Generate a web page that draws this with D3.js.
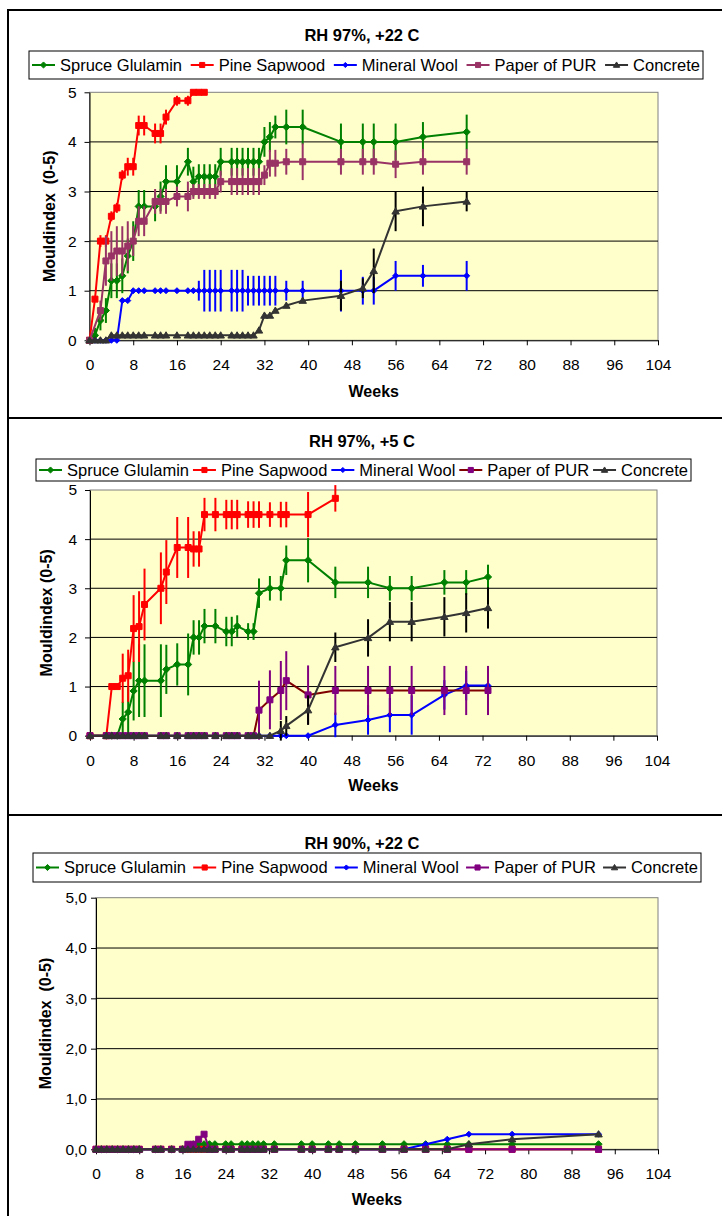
<!DOCTYPE html>
<html><head><meta charset="utf-8">
<script src="https://cdn.jsdelivr.net/npm/d3@7"></script>
<style>
body{margin:0;background:#fff}
svg{display:block}
text{font-family:"Liberation Sans",Arial,Helvetica,sans-serif;fill:#000}
</style>
</head><body>
<svg id="chart" width="722" height="1216"></svg>
<script>
// ---------- shared ----------
const seriesNames = ["Spruce Glulamin","Pine Sapwood","Mineral Wool","Paper of PUR","Concrete"];
const xTickValues = [0,8,16,24,32,40,48,56,64,72,80,88,96,104];
const yTickValues = [0,1,2,3,4,5];

// ---------- Panel 1 : RH 97%, +22 C ----------
const p1Title = "RH 97%, +22 C";
const p1SpruceWeeks = [0,1,2,3,4,5,6,7,8,9,10,12,13,14,16,18,19,20,21,22,23,24,26,27,28,29,30,31,32,33,34,36,39,46,50,52,56,61,69];
const p1SpruceValues = [0,0.1,0.4,0.6,1.2,1.2,1.3,1.7,2.0,2.7,2.7,2.7,2.9,3.2,3.2,3.6,3.2,3.3,3.3,3.3,3.3,3.6,3.6,3.6,3.6,3.6,3.6,3.6,4.0,4.1,4.3,4.3,4.3,4.0,4.0,4.0,4.0,4.1,4.2];
const p1SpruceErrors = [0,0.15,0.2,0.25,0.35,0.35,0.35,0.35,0.4,0.33,0.33,0.3,0.3,0.33,0.33,0.28,0.3,0.25,0.25,0.25,0.25,0.28,0.28,0.28,0.28,0.28,0.28,0.28,0.3,0.3,0.23,0.35,0.35,0.37,0.37,0.37,0.37,0.3,0.35];
const p1PineWeeks = [0,1,2,3,4,5,6,7,8,9,10,12,13,14,16,18,19,20,21];
const p1PineValues = [0,0.83,2,2,2.5,2.67,3.33,3.5,3.5,4.33,4.33,4.17,4.17,4.5,4.83,4.83,5,5,5];
const p1PineErrors = [0,0,0.12,0.12,0.1,0.1,0.1,0.18,0.18,0.2,0.2,0.2,0.2,0.15,0.1,0.1,0,0,0];
const p1MineralWeeks = [0,1,2,3,4,5,6,7,8,9,10,12,13,14,16,18,19,20,21,22,23,24,26,27,28,29,30,31,32,33,34,36,39,46,50,52,56,61,69];
const p1MineralValues = [0,0,0,0,0,0,0.8,0.8,1,1,1,1,1,1,1,1,1,1,1,1,1,1,1,1,1,1,1,1,1,1,1,1,1,1,1,1,1.3,1.3,1.3];
const p1MineralErrors = [0,0,0,0,0,0,0,0,0,0,0,0,0,0,0,0,0,0.2,0.42,0.42,0.42,0.42,0.42,0.42,0.42,0.3,0.3,0.3,0.3,0.3,0.3,0.2,0.2,0.42,0.28,0.28,0.3,0.22,0.3];
const p1PurWeeks = [0,2,3,4,5,6,7,8,9,10,12,13,14,16,18,19,20,21,22,23,24,26,27,28,29,30,31,32,33,34,36,39,46,50,52,56,61,69];
const p1PurValues = [0,0.6,1.6,1.7,1.8,1.8,1.9,2.0,2.4,2.4,2.8,2.8,2.8,2.9,2.9,3.0,3.0,3.0,3.0,3.0,3.2,3.2,3.2,3.2,3.2,3.2,3.2,3.33,3.57,3.57,3.6,3.6,3.6,3.6,3.6,3.55,3.6,3.6];
const p1PurErrors = [0,0.2,0.5,0.5,0.5,0.5,0.5,0.3,0.3,0.3,0.25,0.25,0.25,0.2,0.3,0.15,0.15,0.15,0.15,0.15,0.22,0.27,0.27,0.27,0.27,0.27,0.27,0.2,0.27,0.27,0.26,0.37,0.26,0.26,0.26,0.28,0.26,0.26];
const p1ConcreteWeeks = [0,1,2,3,4,5,6,7,8,9,10,12,13,14,16,18,19,20,21,22,23,24,26,27,28,29,30,31,32,33,34,36,39,46,50,52,56,61,69];
const p1ConcreteValues = [0,0,0,0,0.1,0.1,0.1,0.1,0.1,0.1,0.1,0.1,0.1,0.1,0.1,0.1,0.1,0.1,0.1,0.1,0.1,0.1,0.1,0.1,0.1,0.1,0.1,0.2,0.5,0.5,0.6,0.7,0.8,0.9,1.05,1.4,2.6,2.7,2.8];
const p1ConcreteErrors = [0,0,0,0,0,0,0,0,0,0,0,0,0,0,0,0,0,0,0,0,0,0,0,0,0,0,0,0,0,0,0,0,0,0.3,0.2,0.45,0.4,0.4,0.2];

// ---------- Panel 2 : RH 97%, +5 C ----------
const p2Title = "RH 97%, +5 C";
const p2Weeks = [0,3,4,5,6,7,8,9,10,13,14,16,18,19,20,21,23,25,26,27,29,30,31,33,35,36,40,45,51,55,59,65,69,73];
const p2PineWeeks = [0,3,4,5,6,7,8,9,10,13,14,16,18,19,20,21,23,25,26,27,29,30,31,33,35,36,40,45];
const p2PineValues = [0,0,1,1,1.17,1.22,2.18,2.22,2.67,3.0,3.33,3.83,3.83,3.8,3.8,4.5,4.5,4.5,4.5,4.5,4.5,4.5,4.5,4.5,4.5,4.5,4.5,4.83];
const p2PineErrors = [0,0,0,0,0.5,0.53,0.68,0.72,0.73,0.73,0.65,0.62,0.62,0.36,0.36,0.34,0.34,0.3,0.3,0.3,0.27,0.27,0.27,0.25,0.26,0.26,0.46,0.27];
const p2SpruceValues = [0,0,0,0,0.34,0.48,0.91,1.12,1.12,1.12,1.35,1.45,1.45,2.0,2.0,2.23,2.23,2.12,2.12,2.23,2.12,2.12,2.9,3.0,3.0,3.57,3.57,3.12,3.12,3.0,3.0,3.12,3.12,3.23];
const p2SpruceErrors = [0,0,0,0,0.35,0.5,0.6,0.74,0.74,0.74,0.5,0.43,0.63,0.35,0.35,0.35,0.35,0.3,0.3,0.22,0.17,0.17,0.3,0.25,0.25,0.3,0.45,0.32,0.32,0.25,0.25,0.25,0.25,0.25];
const p2MineralValues = [0,0,0,0,0,0,0,0,0,0,0,0,0,0,0,0,0,0,0,0,0,0,0,0,0,0,0,0.22,0.32,0.42,0.42,0.83,1.02,1.02];
const p2MineralErrors = [0,0,0,0,0,0,0,0,0,0,0,0,0,0,0,0,0,0,0,0,0,0,0,0,0,0,0,0.25,0.3,0.35,0.4,0.3,0.3,0.3];
const p2PurValues = [0,0,0,0,0,0,0,0,0,0,0,0,0,0,0,0,0,0,0,0,0,0,0.52,0.73,0.92,1.12,0.83,0.92,0.92,0.92,0.92,0.92,0.92,0.92];
const p2PurErrors = [0,0,0,0,0,0,0,0,0,0,0,0,0,0,0,0,0,0,0,0,0,0,0.6,0.6,0.6,0.6,0.6,0.5,0.5,0.5,0.5,0.5,0.5,0.5];
const p2ConcreteValues = [0,0,0,0,0,0,0,0,0,0,0,0,0,0,0,0,0,0,0,0,0,0,0,0,0.1,0.2,0.52,1.8,1.99,2.32,2.32,2.42,2.5,2.6];
const p2ConcreteErrors = [0,0,0,0,0,0,0,0,0,0,0,0,0,0,0,0,0,0,0,0,0,0,0,0,0.2,0.2,0.3,0.3,0.38,0.4,0.4,0.4,0.4,0.42];

// ---------- Panel 3 : RH 90%, +22 C ----------
const p3Title = "RH 90%, +22 C";
const p3Weeks = [0,1,2,3,4,5,6,7,8,11,12,14,16,17,18,19,20,21,22,24,25,27,28,29,30,31,33,38,40,43,45,48,53,57,61,65,69,77,93];
const p3SpruceValues = [0,0,0,0,0,0,0,0,0,0,0,0,0,0,0.1,0.1,0.1,0.1,0.1,0.1,0.1,0.1,0.1,0.1,0.1,0.1,0.1,0.1,0.1,0.1,0.1,0.1,0.1,0.1,0.1,0.1,0.1,0.1,0.1];
const p3PineValues = [0,0,0,0,0,0,0,0,0,0,0,0,0,0,0,0,0,0,0,0,0,0,0,0,0,0,0,0,0,0,0,0,0,0,0,0,0,0,0];
const p3MineralValues = [0,0,0,0,0,0,0,0,0,0,0,0,0,0,0,0,0,0,0,0,0,0,0,0,0,0,0,0,0,0,0,0,0,0,0.1,0.2,0.3,0.3,0.3];
const p3PurValues = [0,0,0,0,0,0,0,0,0,0,0,0,0,0.1,0.1,0.2,0.3,0,0,0,0,0,0,0,0,0,0,0,0,0,0,0,0,0,0,0,0,0,0];
const p3ConcreteValues = [0,0,0,0,0,0,0,0,0,0,0,0,0,0,0,0,0,0,0,0,0,0,0,0,0,0,0,0,0,0,0,0,0,0,0,0,0.1,0.2,0.3];

// ---------- drawing ----------
const svg = d3.select("#chart");
const FONT = '"Liberation Sans",Arial,Helvetica,sans-serif';

function zip(weeks, values, errors){
  return weeks.map((w,i)=>({w:w, v:values[i], e: errors ? errors[i] : 0}));
}

function markerPath(shape, size){
  if(shape==="diamond") return `M0,${-size}L${size},0L0,${size}L${-size},0Z`;
  if(shape==="square") return `M${-size},${-size}H${size}V${size}H${-size}Z`;
  if(shape==="triangle") return `M0,${-size*1.05}L${size*1.1},${size*0.8}L${-size*1.1},${size*0.8}Z`;
  return "";
}

function drawPanel(cfg){
  const g = svg.append("g");
  const x = d3.scaleLinear().domain([0,104]).range([cfg.left, cfg.right]);
  const y = d3.scaleLinear().domain([0,5]).range([cfg.bottom, cfg.top]);

  // title
  g.append("text").attr("x", cfg.titleX).attr("y", cfg.titleY)
    .attr("text-anchor","middle").style("font-size","16.5px").style("font-weight","bold")
    .text(cfg.title);

  // legend box
  const lg = g.append("g");
  lg.append("rect").attr("x",cfg.legend.x).attr("y",cfg.legend.y)
    .attr("width",cfg.legend.w).attr("height",cfg.legend.h)
    .attr("fill","#fff").attr("stroke","#000").attr("stroke-width",1);
  // shadow-ish lower/right line like Excel
  const items = cfg.series.map(s=>{
    const it = lg.append("g");
    const t = it.append("text").style("font-size","16.5px").attr("dy","0.35em").text(s.name);
    return {s, it, t, tw: t.node().getComputedTextLength()};
  });
  const lineLen = 23, gapLT = 5, pad = 3;
  const totalItems = d3.sum(items, d=>lineLen+gapLT+d.tw);
  const spacing = (cfg.legend.w - 2*pad - totalItems)/(items.length-1);
  let cx = cfg.legend.x + pad;
  const cy = cfg.legend.y + cfg.legend.h/2;
  items.forEach(d=>{
    d.it.append("line").attr("x1",cx).attr("x2",cx+lineLen).attr("y1",cy).attr("y2",cy)
      .attr("stroke",d.s.lineColor).attr("stroke-width",2);
    d.it.append("path").attr("d",markerPath(d.s.shape,d.s.size*0.85))
      .attr("transform",`translate(${cx+lineLen/2},${cy})`)
      .attr("fill",d.s.markerColor).attr("stroke",d.s.markerColor).attr("stroke-width",1);
    d.t.attr("x",cx+lineLen+gapLT).attr("y",cy);
    cx += lineLen+gapLT+d.tw+spacing;
  });

  // plot area
  g.append("rect").attr("x",cfg.left).attr("y",cfg.top)
    .attr("width",cfg.right-cfg.left).attr("height",cfg.bottom-cfg.top)
    .attr("fill","#FFFFCC").attr("stroke","#808080").attr("stroke-width",1);
  // gridlines
  g.selectAll("line.grid").data(yTickValues.filter(v=>v>0 && v<5)).join("line")
    .attr("class","grid")
    .attr("x1",cfg.left).attr("x2",cfg.right)
    .attr("y1",d=>y(d)).attr("y2",d=>y(d))
    .attr("stroke","#000").attr("stroke-width",1);

  // axes
  const xAxis = d3.axisBottom(x).tickValues(xTickValues).tickSize(5).tickSizeOuter(0).tickPadding(cfg.xPad);
  const xa = g.append("g").attr("transform",`translate(0,${cfg.bottom})`).call(xAxis);
  xa.selectAll("text").style("font-size","15.5px").style("font-family",FONT).attr("fill","#000");
  xa.selectAll("line, path").attr("stroke","#000");
  const yAxis = d3.axisLeft(y).tickValues(yTickValues).tickSize(5).tickSizeOuter(0).tickPadding(cfg.yPad)
    .tickFormat(cfg.yFormat);
  const ya = g.append("g").attr("transform",`translate(${cfg.left},0)`).call(yAxis);
  ya.selectAll("text").style("font-size","15.5px").style("font-family",FONT).attr("fill","#000");
  ya.selectAll("line, path").attr("stroke","#000");

  // axis titles
  g.append("text").attr("x",(cfg.left+cfg.right)/2).attr("y",cfg.weeksY)
    .attr("text-anchor","middle").style("font-size","16px").style("font-weight","bold").text("Weeks");
  g.append("text").attr("transform",`translate(${cfg.yTitleX},${(cfg.top+cfg.bottom)/2}) rotate(-90)`)
    .attr("text-anchor","middle").attr("dy","0.35em").attr("xml:space","preserve")
    .style("white-space","pre").style("font-size","16px").style("font-weight","bold").text(cfg.yTitle);

  // series
  const lineGen = d3.line().x(d=>x(d.w)).y(d=>y(d.v));
  cfg.series.forEach(s=>{
    if(!s.data.length) return;
    const sg = g.append("g");
    sg.append("path").datum(s.data).attr("d",lineGen)
      .attr("fill","none").attr("stroke",s.lineColor).attr("stroke-width",2).attr("stroke-linejoin","round");
    sg.selectAll("line.err").data(s.data.filter(d=>d.e>0)).join("line")
      .attr("class","err")
      .attr("x1",d=>x(d.w)).attr("x2",d=>x(d.w))
      .attr("y1",d=>y(d.v-d.e)).attr("y2",d=>y(d.v+d.e))
      .attr("stroke",s.errColor).attr("stroke-width",2);
    sg.selectAll("path.mk").data(s.data).join("path")
      .attr("class","mk")
      .attr("d",markerPath(s.shape,s.size))
      .attr("transform",d=>`translate(${x(d.w)},${y(d.v)})`)
      .attr("fill",s.markerColor).attr("stroke",s.markerColor).attr("stroke-width",1);
  });
}

// outer frame
svg.append("rect").attr("x",8).attr("y",10).attr("width",740).attr("height",1240)
  .attr("fill","none").attr("stroke","#000").attr("stroke-width",2);
svg.append("line").attr("x1",8).attr("x2",760).attr("y1",418).attr("y2",418).attr("stroke","#000").attr("stroke-width",2);
svg.append("line").attr("x1",8).attr("x2",760).attr("y1",815).attr("y2",815).attr("stroke","#000").attr("stroke-width",2);

const intFmt = d3.format("d");
const commaFmt = d=>d3.format(".1f")(d).replace(".",",");

drawPanel({
  title:p1Title, titleX:362, titleY:41,
  legend:{x:29,y:51,w:674,h:28},
  left:89.5, right:658, top:92.3, bottom:340.3,
  xPad:14, yPad:8, yFormat:intFmt, weeksY:397, yTitleX:49,
  yTitle:"Mouldindex  (0-5)",
  series:[
    {name:seriesNames[0], data:zip(p1SpruceWeeks,p1SpruceValues,p1SpruceErrors), lineColor:"#008000", markerColor:"#008000", errColor:"#008000", shape:"diamond", size:3.6},
    {name:seriesNames[1], data:zip(p1PineWeeks,p1PineValues,p1PineErrors), lineColor:"#FF0000", markerColor:"#FF0000", errColor:"#FF0000", shape:"square", size:3},
    {name:seriesNames[2], data:zip(p1MineralWeeks,p1MineralValues,p1MineralErrors), lineColor:"#0000FF", markerColor:"#0000FF", errColor:"#0000FF", shape:"diamond", size:3},
    {name:seriesNames[3], data:zip(p1PurWeeks,p1PurValues,p1PurErrors), lineColor:"#993366", markerColor:"#993366", errColor:"#993366", shape:"square", size:3},
    {name:seriesNames[4], data:zip(p1ConcreteWeeks,p1ConcreteValues,p1ConcreteErrors), lineColor:"#333333", markerColor:"#333333", errColor:"#000000", shape:"triangle", size:3.4}
  ]
});

drawPanel({
  title:p2Title, titleX:362, titleY:447,
  legend:{x:36,y:459,w:655,h:22},
  left:90, right:657, top:490, bottom:735.7,
  xPad:14, yPad:8, yFormat:intFmt, weeksY:791, yTitleX:46,
  yTitle:"Mouldindex (0-5)",
  series:[
    {name:seriesNames[0], data:zip(p2Weeks,p2SpruceValues,p2SpruceErrors), lineColor:"#008000", markerColor:"#008000", errColor:"#008000", shape:"diamond", size:3.6},
    {name:seriesNames[1], data:zip(p2PineWeeks,p2PineValues,p2PineErrors), lineColor:"#FF0000", markerColor:"#FF0000", errColor:"#FF0000", shape:"square", size:3},
    {name:seriesNames[2], data:zip(p2Weeks,p2MineralValues,p2MineralErrors), lineColor:"#0000FF", markerColor:"#0000FF", errColor:"#0000FF", shape:"diamond", size:3},
    {name:seriesNames[3], data:zip(p2Weeks,p2PurValues,p2PurErrors), lineColor:"#800000", markerColor:"#800080", errColor:"#800080", shape:"square", size:3},
    {name:seriesNames[4], data:zip(p2Weeks,p2ConcreteValues,p2ConcreteErrors), lineColor:"#333333", markerColor:"#333333", errColor:"#000000", shape:"triangle", size:3.4}
  ]
});

drawPanel({
  title:p3Title, titleX:362, titleY:849,
  legend:{x:33,y:853,w:668,h:29},
  left:96, right:658, top:897.7, bottom:1149.3,
  xPad:14, yPad:4, yFormat:commaFmt, weeksY:1205, yTitleX:45,
  yTitle:"Mouldindex  (0-5)",
  series:[
    {name:seriesNames[0], data:zip(p3Weeks,p3SpruceValues), lineColor:"#008000", markerColor:"#008000", errColor:"#008000", shape:"diamond", size:3.6},
    {name:seriesNames[1], data:zip(p3Weeks,p3PineValues), lineColor:"#FF0000", markerColor:"#FF0000", errColor:"#FF0000", shape:"square", size:3},
    {name:seriesNames[2], data:zip(p3Weeks,p3MineralValues), lineColor:"#0000FF", markerColor:"#0000FF", errColor:"#0000FF", shape:"diamond", size:3},
    {name:seriesNames[3], data:zip(p3Weeks,p3PurValues), lineColor:"#800080", markerColor:"#800080", errColor:"#800080", shape:"square", size:3},
    {name:seriesNames[4], data:zip(p3Weeks,p3ConcreteValues), lineColor:"#333333", markerColor:"#333333", errColor:"#000000", shape:"triangle", size:3.4}
  ]
});
</script>
</body></html>
